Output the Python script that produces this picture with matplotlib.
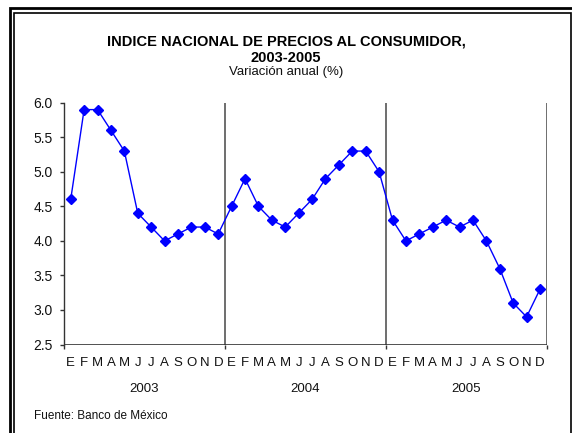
import matplotlib
matplotlib.use("Agg")
import matplotlib.pyplot as plt
from matplotlib.patches import Rectangle
from matplotlib.transforms import blended_transform_factory

plt.rcParams['font.family'] = ['Liberation Sans', 'DejaVu Sans']

months = ["E", "F", "M", "A", "M", "J", "J", "A", "S", "O", "N", "D"]
years = ["2003", "2004", "2005"]
values_2003 = [4.6, 5.9, 5.9, 5.6, 5.3, 4.4, 4.2, 4.0, 4.1, 4.2, 4.2, 4.1]
values_2004 = [4.5, 4.9, 4.5, 4.3, 4.2, 4.4, 4.6, 4.9, 5.1, 5.3, 5.3, 5.0]
values_2005 = [4.3, 4.0, 4.1, 4.2, 4.3, 4.2, 4.3, 4.0, 3.6, 3.1, 2.9, 3.3]
yticks = [2.5, 3.0, 3.5, 4.0, 4.5, 5.0, 5.5, 6.0]

W, H = 572, 433
fig = plt.figure(figsize=(W / 100, H / 100), dpi=100)

# double border (right/bottom parts of the outer frame fall outside the image)
def px_rect(x0, y0, x1, y1, lw):
    return Rectangle((x0 / W, 1 - y1 / H), (x1 - x0) / W, (y1 - y0) / H,
                     transform=fig.transFigure, fill=False, edgecolor='black',
                     linewidth=lw, zorder=0)

fig.patches.append(px_rect(9.8, 8.0, 600, 600, 2.0))
fig.patches.append(px_rect(14.0, 13.0, 570.8, 600, 1.2))

ax = fig.add_axes([64 / W, 1 - 344.5 / H, (546.7 - 64) / W, (344.5 - 102.7) / H])

values = values_2003 + values_2004 + values_2005
n = len(values)
xs = [i + 0.5 for i in range(n)]
ax.plot(xs, values, color='#0000FF', linewidth=1.0, marker='D',
        markersize=5.5, markeredgecolor='#0000FF', markerfacecolor='#0000FF',
        zorder=3)

ax.set_xlim(0, n)
ax.set_ylim(2.5, 6.0)
ax.set_yticks(yticks)
ax.set_yticklabels([f"{v:.1f}" for v in yticks])

bounds = [12 * k for k in range(len(years) + 1)]
ax.set_xticks(bounds)
ax.set_xticklabels([])
for b in bounds[1:]:
    ax.axvline(b, color='#555555', linewidth=1.2, zorder=1)

for s in ['top', 'right', 'bottom']:
    ax.spines[s].set_visible(False)
ax.spines['left'].set_color('#333333')
ax.spines['left'].set_linewidth(1.0)
ax.axhline(yticks[0], xmin=0, xmax=1, color='#333333', linewidth=1.2,
           zorder=2)
ax.tick_params(axis='y', direction='out', length=3, width=1.0,
               color='#333333', labelsize=10, pad=5, labelcolor='#111111')
ax.tick_params(axis='x', direction='out', length=3, width=1.0, color='#333333')

trans = blended_transform_factory(ax.transData, fig.transFigure)
for i in range(n):
    ax.text(i + 0.5, 1 - 363.5 / H, months[i % 12], transform=trans,
            ha='center', va='center', fontsize=9.5, color='#111111')
for k, yr in enumerate(years):
    ax.text(12 * k + 6, 1 - 389 / H, yr, transform=trans,
            ha='center', va='center', fontsize=9.5, color='#111111')

fig.text(286 / W, 1 - 45.7 / H, "INDICE NACIONAL DE PRECIOS AL CONSUMIDOR,",
         ha='center', va='baseline', fontsize=10.5, fontweight='bold')
fig.text(286 / W, 1 - 62.3 / H, "2003-2005",
         ha='center', va='baseline', fontsize=10.5, fontweight='bold')
fig.text(286 / W, 1 - 75 / H, "Variación anual (%)",
         ha='center', va='baseline', fontsize=9.5, color='#111111')
fig.text(34 / W, 1 - 416 / H, "Fuente: Banco de México",
         ha='left', va='center', fontsize=8.5, color='#111111')

fig.savefig("out.png", dpi=100)
